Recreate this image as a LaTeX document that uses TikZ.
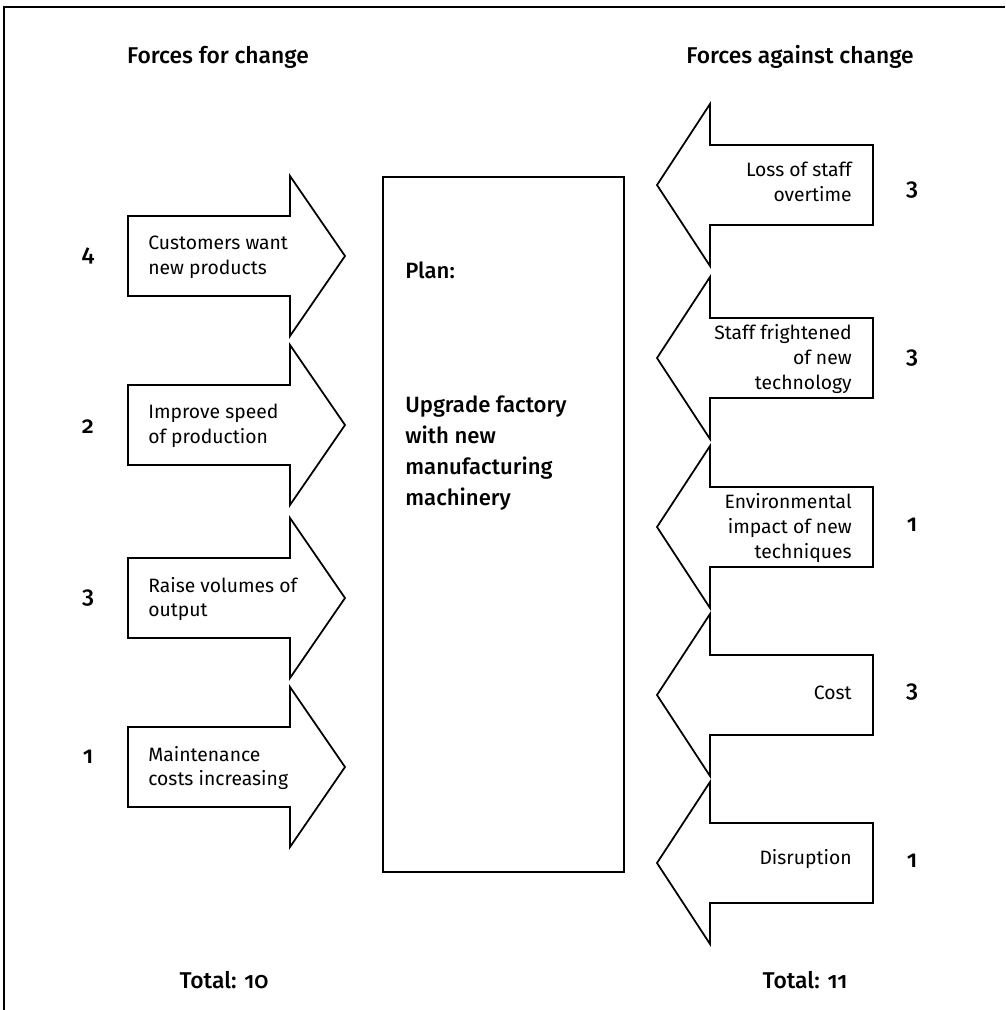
\documentclass[tikz,border=0pt]{standalone}
\usepackage{fontspec}
\setmainfont{Fira Sans}[Numbers=OldStyle, BoldFont={Fira Sans Medium}]
\tikzstyle{frame} = [draw=black, line width=1pt]
\tikzstyle{force} = [draw=black, line width=1pt, line join=miter]
\tikzstyle{plan} = [draw=black, line width=1pt, rectangle, inner sep=0pt]
\tikzstyle{heading} = [font={\bfseries\fontsize{13}{16}\selectfont}]
\tikzstyle{reason} = [font={\fontsize{11}{14}\selectfont}, inner sep=0pt]
\tikzstyle{pro} = [reason, anchor=west, align=left]
\tikzstyle{con} = [reason, anchor=east, align=right]
\tikzstyle{score} = [font={\bfseries\fontsize{13.5}{15}\selectfont}]
\tikzstyle{goal} = [font={\bfseries\fontsize{12.6}{17.6}\selectfont}, anchor=west, align=left, inner sep=0pt]
\newcommand{\proarrow}[1]{\draw[force] (128,#1-40) -- (290,#1-40) -- (290,#1-80) -- (345,#1) -- (290,#1+80) -- (290,#1+40) -- (128,#1+40) -- cycle;}
\newcommand{\conarrow}[1]{\draw[force] (873,#1-40) -- (710,#1-40) -- (710,#1-81) -- (657,#1) -- (710,#1+81) -- (710,#1+40) -- (873,#1+40) -- cycle;}

\begin{document}
\begin{tikzpicture}[x=0.02cm, y=-0.02cm]
  \useasboundingbox (0,0) rectangle (1005,1010);
  \draw[frame] (4,1010) -- (4,7) -- (1005,7);

  \node[heading](forhead) at (218,57){Forces for change};
  \node[heading](againsthead) at (800,57){Forces against change};

  \proarrow{256}
  \proarrow{425}
  \proarrow{598}
  \proarrow{767}
  \node[pro](customers) at (148,257){Customers want\\new products};
  \node[pro](speed) at (148,426){Improve speed\\of production};
  \node[pro](volumes) at (148,599){Raise volumes of\\output};
  \node[pro](maintenance) at (148,768){Maintenance\\costs increasing};
  \node[score](s1) at (88,256){4};
  \node[score](s2) at (88,427){2};
  \node[score](s3) at (88,598){3};
  \node[score](s4) at (88,757){1};

  \node[plan, minimum width=4.82cm, minimum height=13.9cm](plan) at (503.5,524.5){};
  \node[goal](planlabel) at (405,270){Plan:};
  \node[goal](upgrade) at (405,453){Upgrade factory\\with new\\manufacturing\\machinery};

  \conarrow{185}
  \conarrow{358}
  \conarrow{527}
  \conarrow{695}
  \conarrow{863}
  \node[con](overtime) at (852,182){Loss of staff\\overtime};
  \node[con](frightened) at (852,359){Staff frightened\\of new\\technology};
  \node[con](environment) at (852,528){Environmental\\impact of new\\techniques};
  \node[con](cost) at (852,693){Cost};
  \node[con](disruption) at (852,859){Disruption};
  \node[score](r1) at (912,190){3};
  \node[score](r2) at (912,358){3};
  \node[score](r3) at (912,525){1};
  \node[score](r4) at (912,692){3};
  \node[score](r5) at (912,861){1};

  \node[heading](fortotal) at (224,980){Total: 10};
  \node[heading](againsttotal) at (805,980){Total: 11};
\end{tikzpicture}
\end{document}
